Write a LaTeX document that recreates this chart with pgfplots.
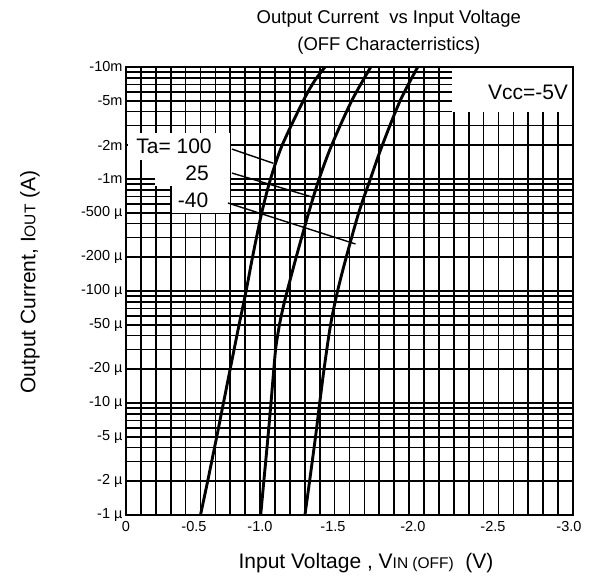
\documentclass[border=0pt]{standalone}
\usepackage{fontspec}
\setmainfont{Liberation Sans}
\usepackage{pgfplots}
\pgfplotsset{compat=1.18}

\begin{document}
\begin{tikzpicture}
\path[use as bounding box] (-126bp,-62bp) rectangle (464bp,515bp);
\begin{axis}[
  at={(0,0)}, anchor=south west,
  scale only axis, width=447bp, height=448bp,
  xmin=0, xmax=3, ymin=1e-6, ymax=1e-2, ymode=log,
  xtick={0,0.456,0.899,1.389,1.925,2.463,2.973},
  xticklabels={0,-0.5,-1.0,-1.5,-2.0,-2.5,-3.0},
  minor xtick={0.1,0.2,0.3,0.4,0.5,0.6,0.7,0.8,0.9,1.0,1.1,1.2,1.3,1.4,1.5,1.6,1.7,1.8,1.9,2.0,2.1,2.2,2.3,2.4,2.5,2.6,2.7,2.8,2.9},
  ytick={1e-6,2e-6,5e-6,1e-5,2e-5,5e-5,1e-4,2e-4,5e-4,1e-3,2e-3,5e-3,1e-2},
  yticklabels={-1 µ,-2 µ,-5 µ,-10 µ,-20 µ,-50 µ,-100 µ,-200 µ,-500 µ,-1m,-2m,-5m,-10m},
  minor ytick={3e-6,4e-6,6e-6,7e-6,8e-6,9e-6,3e-5,4e-5,6e-5,7e-5,8e-5,9e-5,3e-4,4e-4,6e-4,7e-4,8e-4,9e-4,3e-3,4e-3,6e-3,7e-3,8e-3,9e-3},
  xmajorgrids=false, xminorgrids=true, ymajorgrids=true, yminorgrids=true,
  major grid style={black, line width=1.7bp},
  minor grid style={black, line width=1.7bp},
  major tick length=0pt, minor tick length=0pt,
  axis line style={black, line width=1.7bp},
  ticklabel style={font=\fontsize{14.5bp}{17bp}\selectfont},
  xticklabel style={yshift=-3bp},
  title={Output Current\ \ vs Input Voltage\\(OFF Characterristics)},
  title style={font=\fontsize{18.5bp}{27bp}\selectfont, align=center, at={(axis description cs:0.588,1.064)}, anchor=center},
  xlabel={Input Voltage , V{\fontsize{15.5bp}{18bp}\selectfont IN (OFF)}\ \ (V)},
  xlabel style={font=\fontsize{21bp}{24bp}\selectfont, at={(axis description cs:0.537,-0.107)}, anchor=center},
  ylabel={Output Current, I{\fontsize{15.5bp}{18bp}\selectfont OUT} (A)},
  ylabel style={font=\fontsize{21bp}{24bp}\selectfont, at={(axis description cs:-0.215,0.52)}, anchor=center},
]
% white label boxes
\fill[white] (axis cs:0.013,2.58e-3) rectangle (axis cs:0.698,1.48e-3);
\fill[white] (axis cs:0.195,1.49e-3) rectangle (axis cs:0.698,8.66e-4);
\fill[white] (axis cs:0.309,8.7e-4) rectangle (axis cs:0.698,4.97e-4);
\fill[white] (axis cs:2.188,9.8e-3) rectangle (axis cs:2.994,3.96e-3);
\node[font=\fontsize{21bp}{24bp}\selectfont] at (axis cs:0.322,1.97e-3) {Ta= 100};
\node[font=\fontsize{21bp}{24bp}\selectfont] at (axis cs:0.477,1.13e-3) {25};
\node[font=\fontsize{21bp}{24bp}\selectfont] at (axis cs:0.450,6.49e-4) {-40};
\node[font=\fontsize{21bp}{24bp}\selectfont] at (axis cs:2.698,5.98e-3) {Vcc=-5V};
% leader lines
\addplot[black, line width=1.4bp] coordinates {(0.711,1.85e-3) (0.99,1.38e-3)};
\addplot[black, line width=1.4bp] coordinates {(0.711,1.13e-3) (1.25,6.9e-4)};
\addplot[black, line width=1.4bp] coordinates {(0.685,6.1e-4) (1.54,2.63e-4)};
% Ta = 100
\addplot[black, line width=2.9bp, smooth] coordinates {
 (0.500,1e-6) (0.548,2e-6) (0.575,3e-6) (0.609,5e-6) (0.654,1e-5) (0.699,2e-5)
 (0.759,5e-5) (0.806,1e-4) (0.849,2e-4) (0.911,5e-4) (0.970,1e-3) (1.048,2e-3)
 (1.190,5e-3) (1.265,7.5e-3) (1.336,1e-2)};
% Ta = 25
\addplot[black, line width=2.9bp, smooth] coordinates {
 (0.904,1e-6) (0.925,2e-6) (0.953,5e-6) (0.973,1e-5) (0.992,2e-5) (1.006,3.16e-5)
 (1.030,5e-5) (1.054,7.08e-5) (1.082,1e-4) (1.142,2e-4) (1.226,5e-4) (1.296,1e-3)
 (1.380,2e-3) (1.515,5e-3) (1.643,1e-2)};
% Ta = -40
\addplot[black, line width=2.9bp, smooth] coordinates {
 (1.201,1e-6) (1.232,2e-6) (1.272,5e-6) (1.300,1e-5) (1.329,2e-5) (1.373,5e-5)
 (1.420,1e-4) (1.478,2e-4) (1.562,5e-4) (1.640,1e-3) (1.720,2e-3) (1.840,5e-3)
 (1.958,1e-2)};
\end{axis}
\end{tikzpicture}
\end{document}
